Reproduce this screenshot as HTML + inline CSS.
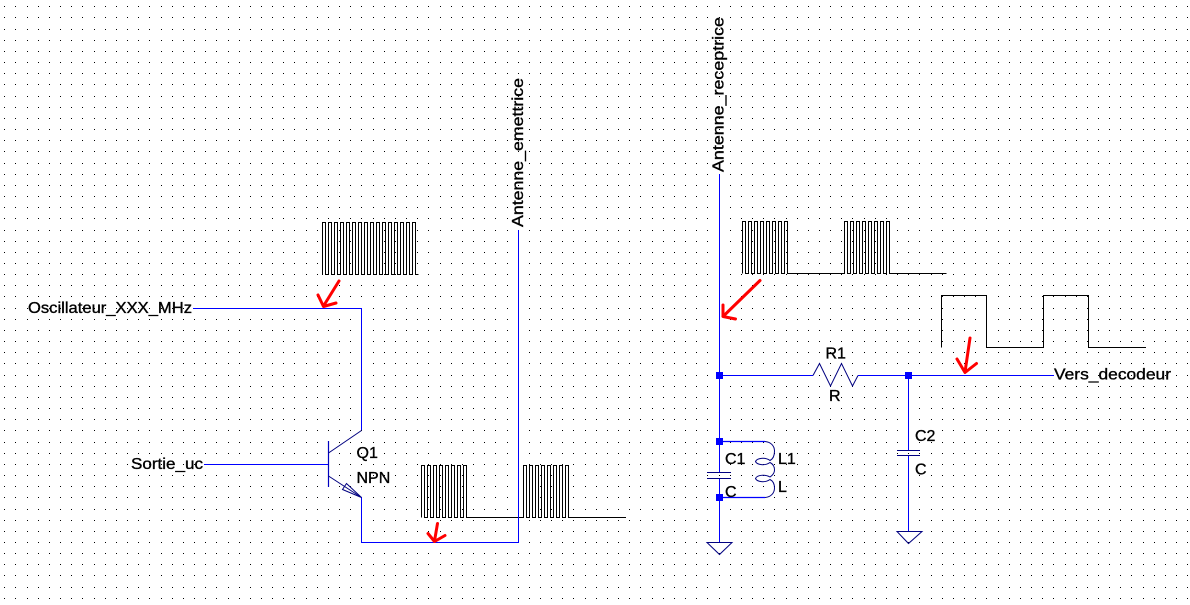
<!DOCTYPE html>
<html><head><meta charset="utf-8"><style>
html,body{margin:0;padding:0;background:#fff;width:1190px;height:605px;overflow:hidden}
svg{display:block}
text{font-family:"Liberation Sans",Arial,sans-serif;font-size:16px;fill:#000;stroke:#000;stroke-width:.35px}
.w{fill:none;stroke:#0000ff;stroke-width:1.2;shape-rendering:crispEdges}
.n{fill:none;stroke:#000080;stroke-width:1}
.k{fill:none;stroke:#000;stroke-width:1.2;shape-rendering:crispEdges}
.r{fill:none;stroke:#ff0000;stroke-width:3;stroke-linecap:round;stroke-linejoin:round}
.j{fill:#0000ff}
</style></head><body>
<svg xmlns="http://www.w3.org/2000/svg" width="1190" height="605" viewBox="0 0 1190 605">
<g id="grid" fill="#000"></g>
<script>
(function(){var g=document.getElementById('grid'),d='';
for(var y=0;y<54;y++){var Y=Math.floor(6.8+11.16*y);if(Y>=605)break;
for(var x=0;x<107;x++){var X=Math.floor(4.8+11.16*x);d+='M'+X+' '+Y+'h1v1h-1z';}}
var p=document.createElementNS('http://www.w3.org/2000/svg','path');p.setAttribute('d',d);p.setAttribute('shape-rendering','crispEdges');g.appendChild(p);})();
</script>

<!-- waveforms -->
<path class="k" d="M322.5 275V222.5h3v52h3v-52h3v52h3v-52h3v52h3v-52h3v52h3v-52h3v52h3v-52h3v52h3v-52h3v52h3v-52h3v52h3v-52h3v52h3v-52h3v52h3v-52h3v52h3v-52h3v52h3v-52h3v52h3v-52h3v52h3v-52h3v52h3v-52h3v52h3"/>
<path class="k" d="M421.5 517.5V465.5h3v52h3v-52h3v52h3v-52h3v52h3v-52h3v52h3v-52h3v52h3v-52h3v52h3v-52h3v52h3v-52h3v52H523.5V465.5h3v52h3v-52h3v52h3v-52h3v52h3v-52h3v52h3v-52h3v52h3v-52h3v52h3v-52h3v52h3v-52h3v52H626"/>
<path class="k" d="M742.5 273.5V221.5h3v52h3v-52h3v52h3v-52h3v52h3v-52h3v52h3v-52h3v52h3v-52h3v52h3v-52h3v52h3v-52h3v52H844.5V221.5h3v52h3v-52h3v52h3v-52h3v52h3v-52h3v52h3v-52h3v52h3v-52h3v52h3v-52h3v52h3v-52h3v52H946.5"/>
<path class="k" d="M941.5 347.5V295.5H986.5V347.5H1043.5V295.5H1088.5V347.5H1146"/>

<!-- left circuit wires -->
<path class="w" d="M193 308.5H361.5V430"/>
<path class="w" d="M204 464.5H328"/>
<path class="w" d="M518.5 230V542.5H361.5V497"/>
<!-- transistor -->
<path class="n" d="M328.5 441V487" style="stroke:#0000c0;stroke-width:1.2"/>
<path class="n" d="M328.5 453L361.5 430.5"/>
<path class="n" d="M328.5 476L361.5 497.5"/>
<path class="n" d="M361.5 497.5L346.5 483.5L342.5 489.5Z"/>

<!-- right circuit wires -->
<path class="w" d="M719.5 174V472.5"/>
<path class="w" d="M719.5 478.5V542"/>
<path class="w" d="M719.5 375.5H813"/>
<path class="w" d="M858 375.5H1054"/>
<path class="w" d="M908.5 375.5V451"/>
<path class="w" d="M908.5 455.5V531"/>
<!-- capacitors -->
<path class="n" d="M707 472.5H731M707 478.5H731"/>
<path class="n" d="M897 450.5H920M897 455.5H920"/>
<!-- grounds -->
<path class="n" d="M707 542.5H732L719.5 554.5Z"/>
<path class="n" d="M897 531.5H922L908.5 543.5Z"/>
<!-- resistor -->
<path class="n" d="M813 375.5L819.5 363.5L830.5 386L841.5 363.5L852.5 386L858 375.5"/>
<!-- inductor -->
<path class="w" d="M719.5 441.5H765" style="shape-rendering:auto"/>
<path class="w" d="M719.5 497.5H765" style="shape-rendering:auto"/>
<path class="n" d="M765 441.5C771 442 774.5 446 774.5 451C774.5 456 773 459 770 460.5C765 457 757 458 755.5 461.5C757 465 765 466 770 462.5C773 464 774.5 467 774.5 470C774.5 473 773 475 770 477C765 474 757 475 755.5 478.5C757 482 765 483 770 479.5C773 481 774.5 484 774.5 488C774.5 493 771 497 765 497.5"/>
<!-- junctions -->
<rect class="j" x="716" y="372" width="7" height="7"/>
<rect class="j" x="905" y="372" width="7" height="7"/>
<rect class="j" x="716" y="438" width="7" height="7"/>
<rect class="j" x="716" y="494" width="7" height="7"/>

<!-- red arrows -->
<path class="r" d="M339 281L323.5 306M318 295L323.5 306.5L336 303"/>
<path class="r" d="M437.5 523.5L434.5 541M428 533.5L434.5 541.5L445 535.5"/>
<path class="r" d="M760 280.5L723 316.5M723 305L723 316.5L735.5 319"/>
<path class="r" d="M970 338L965 372M957 359L965 372.5L976.5 363.5"/>

<!-- labels -->
<text x="28" y="313" textLength="164" lengthAdjust="spacingAndGlyphs">Oscillateur_XXX_MHz</text>
<text x="131" y="469" textLength="72" lengthAdjust="spacingAndGlyphs">Sortie_uc</text>
<text x="356.5" y="458">Q1</text>
<text x="356.5" y="483">NPN</text>
<text x="725" y="464">C1</text>
<text x="725" y="497">C</text>
<text x="778" y="464">L1</text>
<text x="778" y="492">L</text>
<text x="825.5" y="358.5">R1</text>
<text x="829" y="401">R</text>
<text x="915" y="441">C2</text>
<text x="915" y="474.5">C</text>
<text x="1054" y="379.5" textLength="117" lengthAdjust="spacingAndGlyphs">Vers_decodeur</text>
<text transform="translate(523 227) rotate(-90)" textLength="149" lengthAdjust="spacingAndGlyphs">Antenne_emettrice</text>
<text transform="translate(723.5 172) rotate(-90)" textLength="155" lengthAdjust="spacingAndGlyphs">Antenne_receptrice</text>
</svg>
</body></html>
